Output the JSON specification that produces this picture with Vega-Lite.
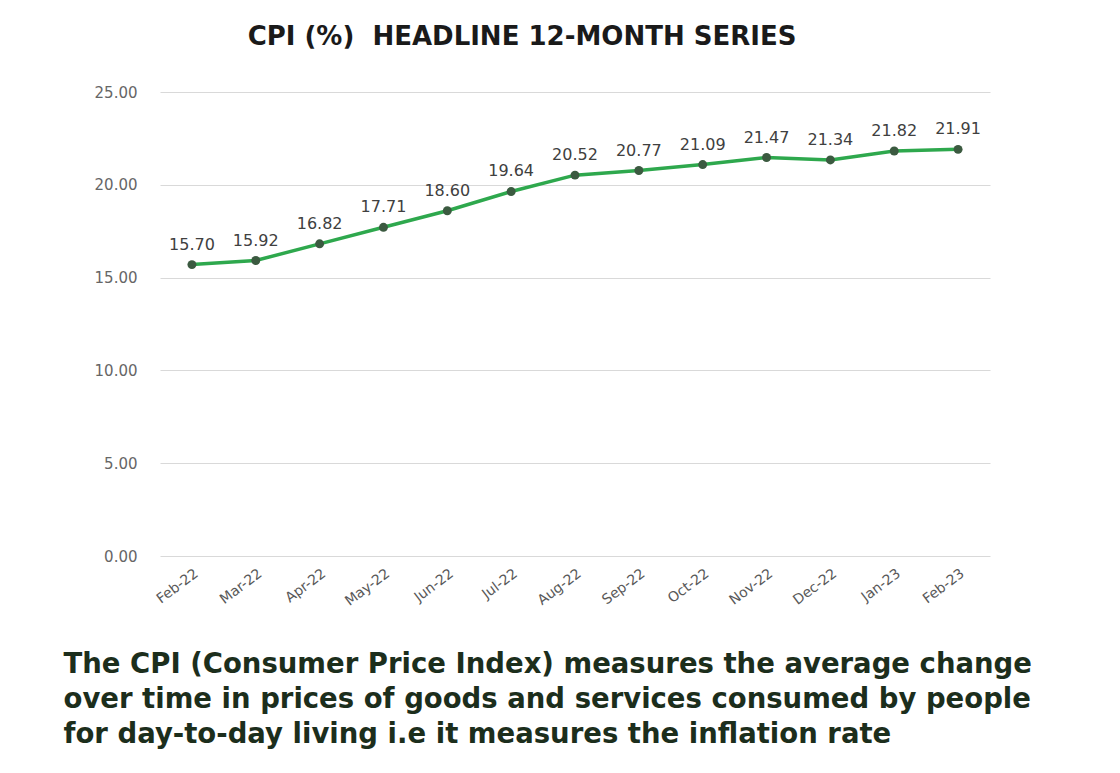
{
  "$schema": "https://vega.github.io/schema/vega-lite/v6.json",
  "width": 830,
  "height": 464,
  "autosize": {"type": "none"},
  "padding": {"left": 160, "top": 92, "right": 130, "bottom": 217},
  "background": "white",
  "title": {
    "text": "CPI (%)\u00a0 HEADLINE 12-MONTH SERIES",
    "font": "DejaVu Sans",
    "fontSize": 26,
    "fontWeight": "bold",
    "color": "#1a1a1a",
    "anchor": "middle",
    "dx": -53,
    "offset": 35
  },
  "data": {
    "values": [
      {"month": "Feb-22", "cpi": 15.70},
      {"month": "Mar-22", "cpi": 15.92},
      {"month": "Apr-22", "cpi": 16.82},
      {"month": "May-22", "cpi": 17.71},
      {"month": "Jun-22", "cpi": 18.60},
      {"month": "Jul-22", "cpi": 19.64},
      {"month": "Aug-22", "cpi": 20.52},
      {"month": "Sep-22", "cpi": 20.77},
      {"month": "Oct-22", "cpi": 21.09},
      {"month": "Nov-22", "cpi": 21.47},
      {"month": "Dec-22", "cpi": 21.34},
      {"month": "Jan-23", "cpi": 21.82},
      {"month": "Feb-23", "cpi": 21.91}
    ]
  },
  "encoding": {
    "x": {
      "field": "month",
      "type": "ordinal",
      "sort": null,
      "scale": {"type": "point", "padding": 0.5},
      "axis": {
        "title": [
          "The CPI (Consumer Price Index) measures the average change",
          "over time in prices of goods and services consumed by people",
          "for day-to-day living i.e it measures the inflation rate"
        ],
        "titleFont": "DejaVu Sans",
        "titleFontSize": 27.5,
        "titleFontWeight": "bold",
        "titleColor": "#1c2e1c",
        "titleAlign": "left",
        "titleAnchor": "start",
        "titleAngle": 0,
        "titleBaseline": "alphabetic",
        "titleX": -97,
        "titleY": 116,
        "titleLineHeight": 35,
        "labelAngle": -37,
        "labelAlign": "right",
        "labelBaseline": "top",
        "labelFont": "DejaVu Sans",
        "labelFontSize": 14,
        "labelColor": "#595959",
        "labelPadding": 10,
        "domain": false,
        "ticks": false,
        "grid": false
      }
    },
    "y": {
      "field": "cpi",
      "type": "quantitative",
      "scale": {"domain": [0, 25], "nice": false, "zero": true},
      "axis": {
        "title": null,
        "values": [0, 5, 10, 15, 20, 25],
        "format": ".2f",
        "labelFont": "DejaVu Sans",
        "labelFontSize": 15,
        "labelColor": "#666666",
        "labelPadding": 23,
        "domain": false,
        "ticks": false,
        "grid": true,
        "gridColor": "#d9d9d9",
        "gridWidth": 1
      }
    }
  },
  "layer": [
    {
      "mark": {"type": "line", "color": "#2ea84d", "strokeWidth": 3.5}
    },
    {
      "mark": {"type": "point", "filled": true, "color": "#3b5a40", "size": 80, "opacity": 1}
    },
    {
      "mark": {"type": "text", "font": "DejaVu Sans", "fontSize": 16, "color": "#404040", "baseline": "bottom", "dy": -12},
      "encoding": {
        "text": {"field": "cpi", "type": "quantitative", "format": ".2f"}
      }
    }
  ],
  "config": {"view": {"stroke": null}}
}
